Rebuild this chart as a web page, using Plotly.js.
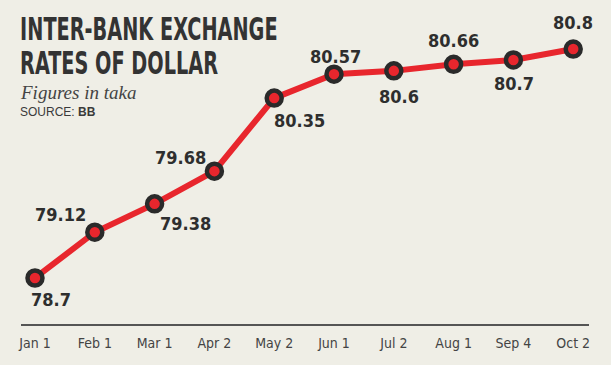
<!DOCTYPE html>
<html>
<head>
<meta charset="utf-8">
<script src="https://cdn.plot.ly/plotly-3.0.1.min.js"></script>
<style>
html,body{margin:0;padding:0;background:#efeee6;}
#chart{width:611px;height:365px;}
</style>
</head>
<body>
<div id="chart"></div>
<script>
const categories = ["Jan 1","Feb 1","Mar 1","Apr 2","May 2","Jun 1","Jul 2","Aug 1","Sep 4","Oct 2"];
const rates = [78.7, 79.12, 79.38, 79.68, 80.35, 80.57, 80.6, 80.66, 80.7, 80.8];
const labels = ["78.7","79.12","79.38","79.68","80.35","80.57","80.6","80.66","80.7","80.8"];
// label offsets in pixels (style)
const labelDx = [16, -34, 31, -34, 25, 1, 5, 0, 1, 0];
const labelDy = [-22, 18, -20, 14, -22, 18, -26, 24, -24, 27];
const titleLines = ["INTER-BANK EXCHANGE", "RATES OF DOLLAR"];

const COND = 'DejaVu Sans Condensed, Roboto Condensed, Roboto, sans-serif';

const trace = {
  x: categories.map((c,i)=>i),
  y: rates,
  type: 'scatter',
  mode: 'lines+markers',
  line: {color: '#e8262d', width: 6},
  marker: {size: 15, color: '#e8262d', line: {color: '#2a2a2a', width: 4.5}},
  hoverinfo: 'skip'
};

const annotations = rates.map((v,i)=>({
  x: i, y: v, xref: 'x', yref: 'y', text: labels[i], showarrow: false,
  xshift: labelDx[i], yshift: labelDy[i],
  font: {family: COND, size: 18, color: '#2e2e2e', weight: 'bold'}
}));

annotations.push(
  {xref:'paper', yref:'paper', x:0, y:0, xanchor:'left', yanchor:'middle', showarrow:false,
   text:'<b>' + titleLines[0] + '</b>', xshift:-3, yshift:295,
   font:{family:COND, size:32, color:'#333333'}},
  {xref:'paper', yref:'paper', x:0, y:0, xanchor:'left', yanchor:'middle', showarrow:false,
   text:'<b>' + titleLines[1] + '</b>', xshift:-3, yshift:261,
   font:{family:COND, size:32, color:'#333333'}},
  {xref:'paper', yref:'paper', x:0, y:0, xanchor:'left', yanchor:'middle', showarrow:false,
   text:'<i>Figures in taka</i>', xshift:-3, yshift:232,
   font:{family:'Liberation Serif', size:19, color:'#444444'}},
  {xref:'paper', yref:'paper', x:0, y:0, xanchor:'left', yanchor:'middle', showarrow:false,
   text:'SOURCE: <b>BB</b>', xshift:-3, yshift:212,
   font:{family:'Liberation Sans', size:12, color:'#3a3a3a'}}
);

const layout = {
  width: 611, height: 365,
  margin: {l: 21, r: 22, t: 0, b: 41},
  paper_bgcolor: '#efeee6',
  plot_bgcolor: '#efeee6',
  showlegend: false,
  xaxis: {
    range: [-0.234, 9.264],
    tickmode: 'array', tickvals: categories.map((c,i)=>i), ticktext: categories,
    showgrid: false, zeroline: false,
    showline: true, linecolor: '#555555', linewidth: 2,
    ticks: '', ticklen: 0, ticklabelstandoff: 5,
    tickfont: {family: COND, size: 14, color: '#444444'},
    fixedrange: true
  },
  yaxis: {
    range: [78.278, 81.25],
    showgrid: false, zeroline: false, showline: false,
    showticklabels: false, ticks: '',
    fixedrange: true
  },
  annotations: annotations
};

Plotly.newPlot('chart', [trace], layout, {displayModeBar: false, staticPlot: true}).then(()=>{
  // squeeze the headline horizontally to mimic a condensed display face
  document.querySelectorAll('#chart .annotation-text').forEach(t=>{
    if (titleLines.includes(t.textContent)) {
      t.style.transformBox = 'fill-box';
      t.style.transformOrigin = 'left center';
      t.style.transform = 'scaleX(0.67)';
    }
  });
});
</script>
</body>
</html>
